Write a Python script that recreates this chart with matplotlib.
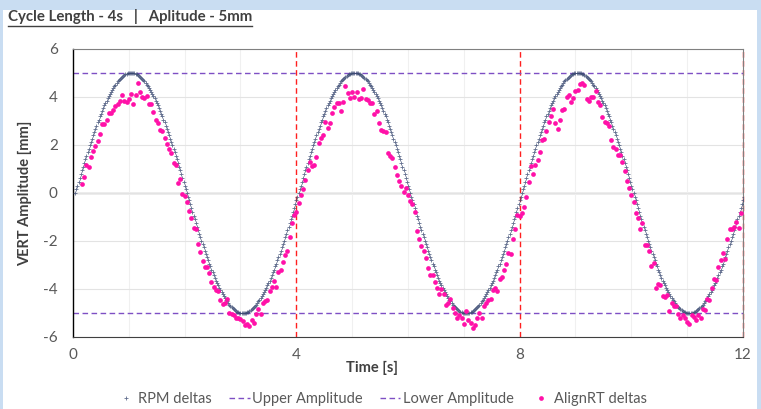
import numpy as np
import matplotlib
matplotlib.use('Agg')
import matplotlib.pyplot as plt
from matplotlib.patches import Rectangle
from matplotlib.lines import Line2D

plt.rcParams['font.family'] = ['Lato', 'DejaVu Sans']
plt.rcParams['axes.unicode_minus'] = False

# ---- data ----
title = 'Cycle Length - 4s   |   Aplitude - 5mm'
upper_amp = 5
lower_amp = -5
cycle_marks = [4, 8, 12]
x_ticks = [0, 4, 8, 12]
y_ticks = [-6, -4, -2, 0, 2, 4, 6]

# RPM deltas, one 4 s cycle sampled every 0.02 s (repeats 3 times)
rpm_cycle = [
    0.00, 0.16, 0.31, 0.47, 0.63, 0.78, 0.94, 1.09, 1.24, 1.40, 1.55, 1.69, 1.84,
    1.99, 2.13, 2.27, 2.41, 2.55, 2.68, 2.81, 2.94, 3.06, 3.19, 3.31, 3.42, 3.54,
    3.65, 3.75, 3.85, 3.95, 4.05, 4.14, 4.22, 4.30, 4.38, 4.46, 4.52, 4.59, 4.65,
    4.70, 4.76, 4.80, 4.84, 4.88, 4.91, 4.94, 4.96, 4.98, 4.99, 5.00, 5.00,
    5.00, 4.99, 4.98, 4.96, 4.94, 4.91, 4.88, 4.84, 4.80, 4.76, 4.70, 4.65, 4.59,
    4.52, 4.46, 4.38, 4.30, 4.22, 4.14, 4.05, 3.95, 3.85, 3.75, 3.65, 3.54, 3.42,
    3.31, 3.19, 3.06, 2.94, 2.81, 2.68, 2.55, 2.41, 2.27, 2.13, 1.99, 1.84, 1.69,
    1.55, 1.40, 1.24, 1.09, 0.94, 0.78, 0.63, 0.47, 0.31, 0.16,
    0.00, -0.16, -0.31, -0.47, -0.63, -0.78, -0.94, -1.09, -1.24, -1.40, -1.55,
    -1.69, -1.84, -1.99, -2.13, -2.27, -2.41, -2.55, -2.68, -2.81, -2.94, -3.06,
    -3.19, -3.31, -3.42, -3.54, -3.65, -3.75, -3.85, -3.95, -4.05, -4.14, -4.22,
    -4.30, -4.38, -4.46, -4.52, -4.59, -4.65, -4.70, -4.76, -4.80, -4.84, -4.88,
    -4.91, -4.94, -4.96, -4.98, -4.99, -5.00, -5.00,
    -5.00, -4.99, -4.98, -4.96, -4.94, -4.91, -4.88, -4.84, -4.80, -4.76, -4.70,
    -4.65, -4.59, -4.52, -4.46, -4.38, -4.30, -4.22, -4.14, -4.05, -3.95, -3.85,
    -3.75, -3.65, -3.54, -3.42, -3.31, -3.19, -3.06, -2.94, -2.81, -2.68, -2.55,
    -2.41, -2.27, -2.13, -1.99, -1.84, -1.69, -1.55, -1.40, -1.24, -1.09, -0.94,
    -0.78, -0.63, -0.47, -0.31, -0.16,
]
rpm = np.tile(rpm_cycle, 3)
rpm_t = 0.04 + 0.02 * np.arange(len(rpm))

# AlignRT deltas, sampled every 0.04 s from t = 0.16
align_c1 = [
    0.36, 0.65, 1.15, 1.10, 1.49, 1.76, 1.96, 2.18, 2.46, 2.89,
    2.89, 3.05, 3.32, 3.35, 3.45, 3.62, 3.72, 3.85, 4.10, 3.85,
    3.80, 3.92, 4.14, 3.70, 4.10, 4.60, 4.20, 4.00, 3.95, 4.05,
    3.72, 3.70, 3.39, 3.05, 2.93, 2.62, 2.58, 2.30, 2.05, 1.82,
    1.65, 1.26, 1.16, 0.43, 0.57, -0.05, -0.12, -0.36, -0.75, -1.06,
    -1.45, -1.51, -2.13, -2.45, -2.82, -3.07, -3.10, -3.32, -3.70, -3.90,
    -4.05, -4.10, -4.45, -4.62, -4.60, -4.43, -4.99, -5.05, -5.10, -5.22,
    -5.20, -5.26, -5.35, -5.50, -5.45, -5.53, -5.30, -5.40, -5.05, -4.85,
    -5.05, -4.57, -4.49, -4.45, -4.10, -3.90, -3.65, -3.90, -3.30, -3.20,
    -2.89, -2.60, -2.42, -1.85, -1.26, -0.90, -0.78, -0.43, -0.10, 0.15,
]
align_c2 = [
    0.55, 0.95, 1.31, 1.12, 1.15, 1.51, 2.07, 2.30, 2.40, 2.97,
    2.69, 2.90, 3.32, 3.60, 3.77, 3.77, 3.43, 3.80, 4.46, 4.18,
    3.95, 4.20, 3.98, 4.20, 3.92, 3.96, 4.32, 3.90, 3.88, 3.75,
    3.75, 3.30, 3.40, 2.90, 2.62, 2.58, 2.55, 1.65, 1.55, 1.45,
    1.10, 0.76, 0.50, 0.30, 0.05, 0.20, -0.10, -0.35, -0.45, -0.78,
    -1.57, -1.93, -2.20, -2.40, -2.70, -3.14, -3.40, -3.42, -3.70, -3.97,
    -4.20, -3.98, -4.20, -4.67, -4.60, -4.40, -4.80, -5.00, -5.20, -5.10,
    -5.20, -5.45, -4.90, -5.30, -5.40, -5.64, -5.50, -5.20, -5.00, -5.20,
    -4.70, -4.60, -4.45, -4.40, -4.05, -3.95, -4.10, -3.60, -3.50, -3.20,
    -2.95, -2.50, -2.55, -1.90, -1.50, -0.90, -0.95, -0.85, -0.60, -0.15,
]
align_c3 = [
    0.47, 1.12, 0.80, 1.15, 1.37, 1.70, 2.20, 2.24, 2.60, 2.97,
    3.20, 3.50, 2.90, 2.67, 3.06, 3.45, 3.48, 4.00, 4.10, 3.80,
    3.95, 4.26, 4.28, 4.55, 4.60, 4.52, 3.90, 3.85, 4.00, 4.00,
    4.25, 3.80, 3.65, 3.15, 2.95, 2.90, 2.80, 2.20, 1.90, 1.85,
    1.60, 1.60, 1.30, 0.90, 0.51, 0.20, -0.10, -0.36, -0.85, -1.06,
    -1.50, -1.26, -2.17, -2.17, -2.40, -3.06, -2.93, -3.97, -3.80, -3.85,
    -4.30, -4.35, -4.25, -4.90, -4.60, -4.70, -4.72, -5.05, -5.20, -5.10,
    -5.20, -5.36, -5.45, -5.10, -5.15, -5.30, -5.10, -5.20, -4.85, -4.88,
    -4.40, -4.45, -3.96, -3.60, -3.62, -3.10, -2.80, -2.50, -2.75, -1.90,
    -1.50, -1.52, -1.40, -1.20, -1.46, -0.85,
]
align = np.array(align_c1 + align_c2 + align_c3)
align_t = 0.16 + 0.04 * np.arange(len(align))

# ---- figure ----
W, H = 761, 409
fig = plt.figure(figsize=(W / 100, H / 100), dpi=100, facecolor='#C9DDF2')
fig.patches.append(Rectangle((3 / W, 0), (757 - 3) / W, (H - 10) / H,
                             transform=fig.transFigure, facecolor='white',
                             edgecolor='none', zorder=-10))

ax = fig.add_axes([73 / W, 1 - 337 / H, (743 - 73) / W, (337 - 49) / H])
ax.set_facecolor('white')
ax.set_xlim(0, 12)
ax.set_ylim(-6, 6)
ax.set_xticks(x_ticks)
ax.set_yticks(y_ticks)
ax.set_xticks(np.arange(0, 13, 1), minor=True)
ax.grid(True, which='major', axis='y', color='#E3E3E3', lw=0.8, zorder=0)
ax.grid(True, which='minor', axis='x', color='#F0F0F0', lw=0.8, zorder=0)
ax.tick_params(which='both', length=0, labelsize=11, labelcolor='#595959')
ax.tick_params(axis='x', pad=8)
ax.tick_params(axis='y', pad=11)
for s in ['top', 'right']:
    ax.spines[s].set_color('#808080')
    ax.spines[s].set_linewidth(0.8)
ax.spines['left'].set_color('black')
ax.spines['bottom'].set_color('#404040')
ax.spines['left'].set_linewidth(1.0)
ax.spines['bottom'].set_linewidth(0.8)

ax.axhline(0, color='#A6A6A6', lw=1.0, zorder=1)

for xc in cycle_marks:
    ax.axvline(xc, color='#FF2020', lw=1.0, ls=(0, (4, 2.5)), zorder=2, clip_on=False)

ax.plot(rpm_t, rpm, ls='none', marker='+', ms=3, mew=0.6, color='#3A4A72',
        alpha=0.8, zorder=3, label='RPM deltas')
ax.axhline(upper_amp, color='#7E4FC4', lw=1.0, ls=(0, (4, 2.5)), zorder=2,
           label='Upper Amplitude')
ax.axhline(lower_amp, color='#7E4FC4', lw=1.0, ls=(0, (4, 2.5)), zorder=2,
           label='Lower Amplitude')
ax.plot(align_t, align, ls='none', marker='o', ms=3.4, mew=0, color='#FF11A8',
        zorder=4, label='AlignRT deltas')

ax.set_ylabel('VERT Amplitude [mm]', fontsize=10.5, fontweight='bold',
              color='#404040', labelpad=8)
ax.text(372 / W, 1 - 368 / H, 'Time [s]', transform=fig.transFigure,
        ha='center', va='center', fontsize=10.5, fontweight='bold', color='#404040')

h, l = ax.get_legend_handles_labels()
leg = fig.legend(h, l, loc='center', bbox_to_anchor=(381 / W, 1 - 399 / H), ncol=4,
                 frameon=False, fontsize=10.5, handlelength=1.4, handletextpad=0.15,
                 columnspacing=1.2, labelcolor='#595959')

t = fig.text(8 / W, 1 - 17 / H, title, ha='left', va='center', fontsize=10.8,
             fontweight='bold', color='#404040')
fig.canvas.draw()
bb = t.get_window_extent()
fig.lines.append(Line2D([bb.x0 / W, bb.x1 / W], [(bb.y0 - 1.5) / H] * 2,
                        transform=fig.transFigure, color='#404040', lw=1.0))

fig.savefig('out.png', dpi=100, facecolor=fig.get_facecolor())
